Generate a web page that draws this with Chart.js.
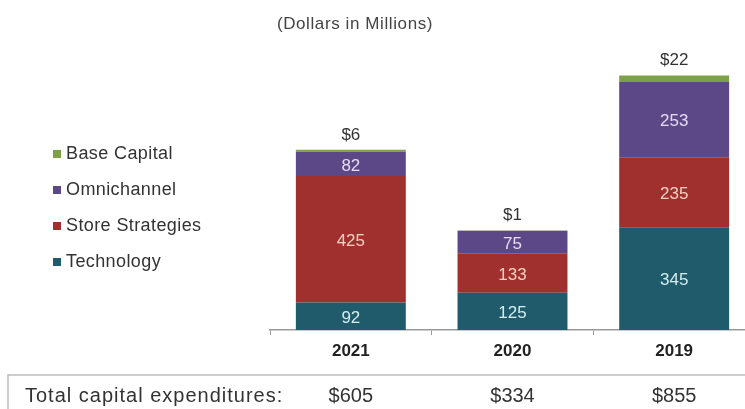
<!DOCTYPE html>
<html>
<head>
<meta charset="utf-8">
<script src="https://cdn.jsdelivr.net/npm/chart.js@4.4.1/dist/chart.umd.min.js"></script>
<style>
  html, body { margin: 0; padding: 0; background: #fff; overflow: hidden; }
  #wrap { width: 755px; height: 409px; }
</style>
</head>
<body>
<div id="wrap"><canvas id="capexChart"></canvas></div>
<script>
const years = ['2021', '2020', '2019'];
const technology = [92, 125, 345];
const storeStrategies = [425, 133, 235];
const omnichannel = [82, 75, 253];
const baseCapital = [6, 1, 22];

const seriesColors = {
  technology: '#1f5b6b',
  store: '#a0302e',
  omni: '#5c4886',
  base: '#7ea046'
};
const insideLabelColors = ['#d3ecf0', '#f7cfc2', '#e4dcf4'];

const font = '"Liberation Sans", Arial, sans-serif';

// totals for the row under the chart
function totalFor(i) {
  return technology[i] + storeStrategies[i] + omnichannel[i] + baseCapital[i];
}

const decorations = {
  id: 'decorations',
  afterDatasetsDraw(chart) {
    const ctx = chart.ctx;
    const x = chart.scales.x;
    ctx.save();

    // title
    ctx.fillStyle = '#444';
    ctx.font = '17px ' + font;
    ctx.letterSpacing = '0.6px';
    ctx.textAlign = 'center';
    ctx.textBaseline = 'middle';
    ctx.fillText('(Dollars in Millions)', 355, 24);
    ctx.letterSpacing = '0px';

    // values inside the bars (first three series)
    ctx.font = '17px ' + font;
    for (let d = 0; d < 3; d++) {
      const meta = chart.getDatasetMeta(d);
      ctx.fillStyle = insideLabelColors[d];
      meta.data.forEach((bar, i) => {
        const v = chart.data.datasets[d].data[i];
        ctx.fillText(String(v), bar.x, (bar.y + bar.base) / 2 + 2);
      });
    }

    // base capital above the stack
    const topMeta = chart.getDatasetMeta(3);
    ctx.fillStyle = '#333';
    topMeta.data.forEach((bar, i) => {
      ctx.fillText('$' + baseCapital[i], bar.x, bar.y - 15);
    });

    // legend, top item first
    const legendItems = chart.data.datasets.slice().reverse();
    ctx.textAlign = 'left';
    ctx.font = '18px ' + font;
    ctx.letterSpacing = '0.4px';
    legendItems.forEach((ds, k) => {
      const y = 154 + k * 36;
      ctx.fillStyle = ds.backgroundColor;
      ctx.fillRect(53, y - 4, 8, 8);
      ctx.fillStyle = '#333';
      ctx.fillText(ds.label, 66, y);
    });
    ctx.letterSpacing = '0px';

    // totals row
    ctx.strokeStyle = '#bdbdbd';
    ctx.lineWidth = 1.5;
    ctx.strokeRect(8, 375, 760, 60);
    ctx.font = '20px ' + font;
    ctx.fillStyle = '#333';
    ctx.letterSpacing = '1px';
    ctx.fillText('Total capital expenditures:', 25, 396);
    ctx.letterSpacing = '0px';
    ctx.textAlign = 'center';
    years.forEach((yr, i) => {
      ctx.fillText('$' + totalFor(i), x.getPixelForValue(i), 396);
    });

    ctx.restore();
  }
};

new Chart(document.getElementById('capexChart'), {
  type: 'bar',
  data: {
    labels: years,
    datasets: [
      { label: 'Technology', data: technology, backgroundColor: seriesColors.technology },
      { label: 'Store Strategies', data: storeStrategies, backgroundColor: seriesColors.store },
      { label: 'Omnichannel', data: omnichannel, backgroundColor: seriesColors.omni },
      { label: 'Base Capital', data: baseCapital, backgroundColor: seriesColors.base }
    ]
  },
  options: {
    responsive: true,
    maintainAspectRatio: false,
    animation: false,
    events: [],
    layout: { padding: { left: 270, right: 0, top: 62, bottom: 49 } },
    datasets: { bar: { barPercentage: 0.68, categoryPercentage: 1 } },
    plugins: {
      legend: { display: false },
      tooltip: { enabled: false }
    },
    scales: {
      x: {
        stacked: true,
        afterFit(scale) { scale.height = 30; },
        grid: { drawOnChartArea: false, tickLength: 5, color: '#999' },
        border: { color: '#999', width: 1.5 },
        ticks: {
          padding: 6,
          color: '#222',
          font: { family: font, size: 17, weight: 'bold' }
        }
      },
      y: {
        stacked: true,
        display: false,
        min: 0,
        max: 900
      }
    }
  },
  plugins: [decorations]
});
</script>
</body>
</html>
